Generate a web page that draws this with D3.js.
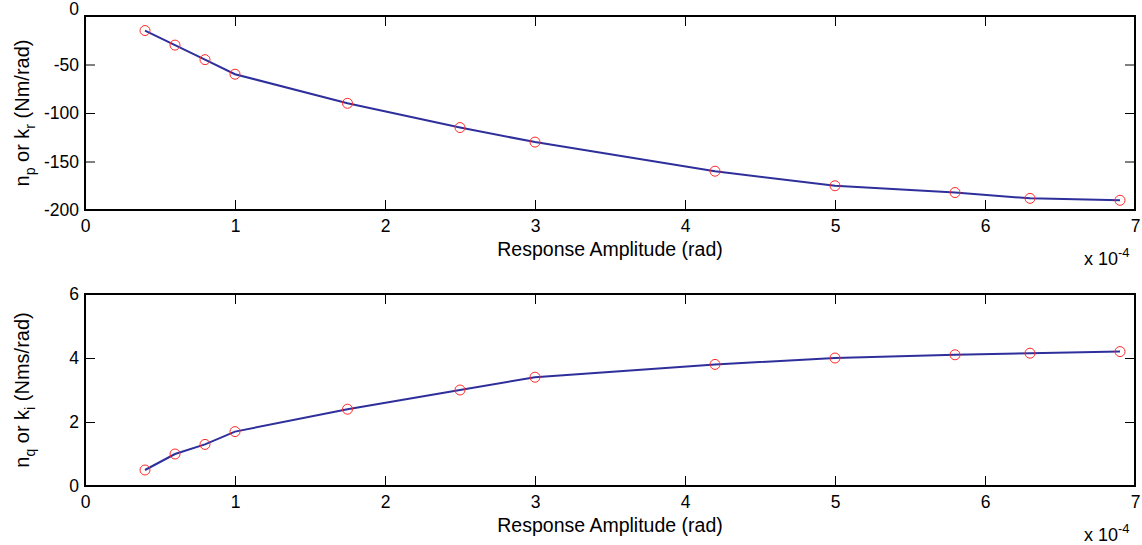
<!DOCTYPE html>
<html lang="en">
<head>
  <meta charset="UTF-8">
  <title>Response amplitude</title>
  <script src="https://d3js.org/d3.v7.min.js"></script>
  <style>
    body { margin: 0; background: #fff; }
    svg text { font-family: 'Liberation Sans', Arial, sans-serif; fill: #000; }
    .domain { display: none; }
  </style>
</head>
<body>
<svg width="1142" height="545"></svg>
<script>
  // amplitude in units of 1e-4 rad
  const amplitude = [0.4, 0.6, 0.8, 1.0, 1.75, 2.5, 3.0, 4.2, 5.0, 5.8, 6.3, 6.9];
  const stiffness = [-15, -30, -45, -60, -90, -115, -130, -160, -175, -182, -188, -190];
  const damping = [0.5, 1.0, 1.3, 1.7, 2.4, 3.0, 3.4, 3.8, 4.0, 4.1, 4.15, 4.2];
  const xTicks = [0, 1, 2, 3, 4, 5, 6, 7];
  const stiffTicks = [0, -50, -100, -150, -200];
  const dampTicks = [0, 2, 4, 6];

  const svg = d3.select("svg");
  const left = 85, right = 1135;

  const x = d3.scaleLinear().domain([0, 7]).range([left, right]);
  const plain = d => String(d);  // hyphen minus, like the original

  function panel(top, bottom, yDomain, yTicks, values, label, shiftTopLabel) {
    const y = d3.scaleLinear().domain(yDomain).range([bottom, top]);
    const g = svg.append("g");

    // ticks, inward on all four sides
    g.append("g").attr("transform", `translate(0,${bottom})`)
      .call(d3.axisBottom(x).tickValues(xTicks).tickSize(-10).tickPadding(10).tickFormat(plain));
    g.append("g").attr("transform", `translate(0,${top})`)
      .call(d3.axisTop(x).tickValues(xTicks).tickSize(-10).tickFormat(""));
    const ya = g.append("g").attr("transform", `translate(${left},0)`)
      .call(d3.axisLeft(y).tickValues(yTicks).tickSize(-10).tickPadding(6).tickFormat(plain));
    g.append("g").attr("transform", `translate(${right},0)`)
      .call(d3.axisRight(y).tickValues(yTicks).tickSize(-10).tickFormat(""));
    g.selectAll(".tick line").attr("stroke", "#000").attr("stroke-width", 1);
    g.selectAll(".tick text").style("font-size", "17.5px");
    if (shiftTopLabel) {
      ya.selectAll(".tick text").filter(d => d === yDomain[1]).attr("dy", -2);
    }

    // box
    g.append("rect")
      .attr("x", left).attr("y", top)
      .attr("width", right - left).attr("height", bottom - top)
      .attr("fill", "none").attr("stroke", "#000").attr("stroke-width", 2);

    const pts = amplitude.map((a, i) => [a, values[i]]);
    g.append("path")
      .datum(pts)
      .attr("fill", "none")
      .attr("stroke", "#2f2f9c")
      .attr("stroke-width", 2)
      .attr("d", d3.line().x(d => x(d[0])).y(d => y(d[1])));

    g.selectAll("circle.pt")
      .data(pts)
      .enter().append("circle")
      .attr("class", "pt")
      .attr("cx", d => x(d[0]))
      .attr("cy", d => y(d[1]))
      .attr("r", 5)
      .attr("fill", "none")
      .attr("stroke", "#ff2a2a")
      .attr("stroke-width", 1);

    // x label
    g.append("text")
      .attr("x", (left + right) / 2).attr("y", bottom + 46)
      .attr("text-anchor", "middle")
      .style("font-size", "19.5px")
      .text("Response Amplitude (rad)");

    // exponent
    const ex = g.append("text").attr("x", 1084).attr("y", bottom + 55).style("font-size", "18px");
    ex.append("tspan").text("x 10");
    ex.append("tspan").attr("dy", -8).style("font-size", "13px").text("-4");

    // y label with subscripts
    const yl = g.append("text")
      .attr("transform", `translate(29,${(top + bottom) / 2}) rotate(-90)`)
      .attr("text-anchor", "middle")
      .style("font-size", "20px");
    yl.append("tspan").text("n");
    yl.append("tspan").attr("dy", 6).style("font-size", "14px").text(label[0]);
    yl.append("tspan").attr("dy", -6).text(" or k");
    yl.append("tspan").attr("dy", 6).style("font-size", "14px").text(label[1]);
    yl.append("tspan").attr("dy", -6).text(" " + label[2]);
  }

  panel(16, 210, [-200, 0], stiffTicks, stiffness, ["p", "r", "(Nm/rad)"], true);
  panel(294, 486, [0, 6], dampTicks, damping, ["q", "i", "(Nms/rad)"], false);
</script>
</body>
</html>
